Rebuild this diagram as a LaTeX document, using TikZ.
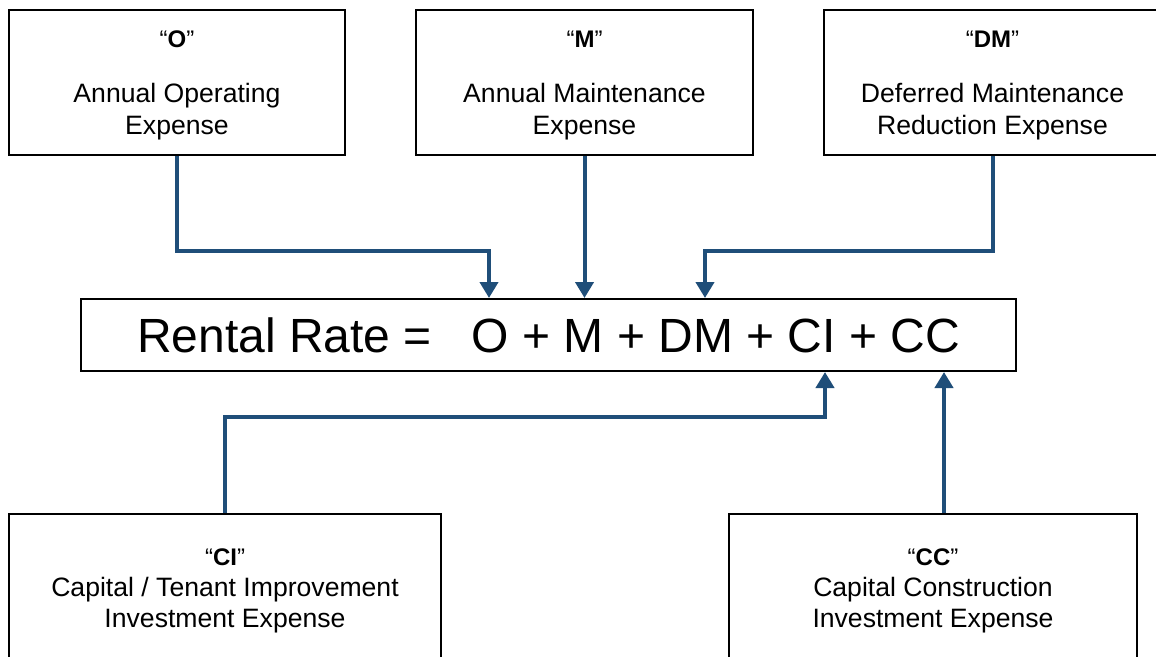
\documentclass[tikz,border=0pt]{standalone}
\usepackage{fontspec}
\setmainfont{Liberation Sans}
\usetikzlibrary{arrows.meta}
\definecolor{linkblue}{HTML}{1F4E79}
\newcommand{\costtitle}[1]{{\fontsize{24}{28}\selectfont “\textbf{#1}”}}
\begin{document}
\begin{tikzpicture}[x=1pt,y=-1pt,
  costbox/.style={draw=black, line width=2pt, rectangle, inner sep=0pt, align=center,
    font=\fontsize{26.6}{32}\selectfont},
  lowbox/.style={costbox, font=\fontsize{26.6}{31}\selectfont},
  ratebox/.style={draw=black, line width=2pt, rectangle, inner sep=0pt,
    font=\fontsize{48}{56}\selectfont},
  conn/.style={draw=linkblue, line width=4pt,
    -{Triangle[width=18pt,length=16pt]}}]
\useasboundingbox (0,0) rectangle (1156,656);
\fill[white] (0,0) rectangle (1156,656);
\clip (0,0) rectangle (1156,656);

% upper cost components
\node[costbox, minimum width=336pt, minimum height=145pt] (o) at (177,82.5)
  {\rule{0pt}{23pt}\costtitle{O}\\[23pt]Annual Operating\\Expense};
\node[costbox, minimum width=337pt, minimum height=145pt] (m) at (584.5,82.5)
  {\rule{0pt}{23pt}\costtitle{M}\\[23pt]Annual Maintenance\\Expense};
\node[costbox, minimum width=337pt, minimum height=145pt] (dm) at (992.5,82.5)
  {\rule{0pt}{23pt}\costtitle{DM}\\[23pt]Deferred Maintenance\\Reduction Expense};

% the rental rate formula
\node[ratebox, minimum width=935pt, minimum height=72pt] (main) at (548.5,335)
  {Rental Rate =\hspace{40pt}O + M + DM + CI + CC};

% lower cost components
\node[lowbox, minimum width=432pt, minimum height=154pt] (ci) at (225,591)
  {\costtitle{CI}\\Capital / Tenant Improvement\\Investment Expense};
\node[lowbox, minimum width=408pt, minimum height=154pt] (cc) at (933,591)
  {\costtitle{CC}\\Capital Construction\\Investment Expense};

% connectors into the formula
\draw[conn] (o.south) -- ++(0,95) -| ([xshift=-59.5pt]main.north);
\draw[conn] (m.south) -- (m.south |- main.north);
\draw[conn] (dm.south) -- ++(0,95) -| ([xshift=156.5pt]main.north);
\draw[conn] (ci.north) -- ++(0,-96) -| ([xshift=276.5pt]main.south);
\draw[conn] ([xshift=11pt]cc.north) -- ([xshift=11pt]cc.north |- main.south);
\end{tikzpicture}
\end{document}
